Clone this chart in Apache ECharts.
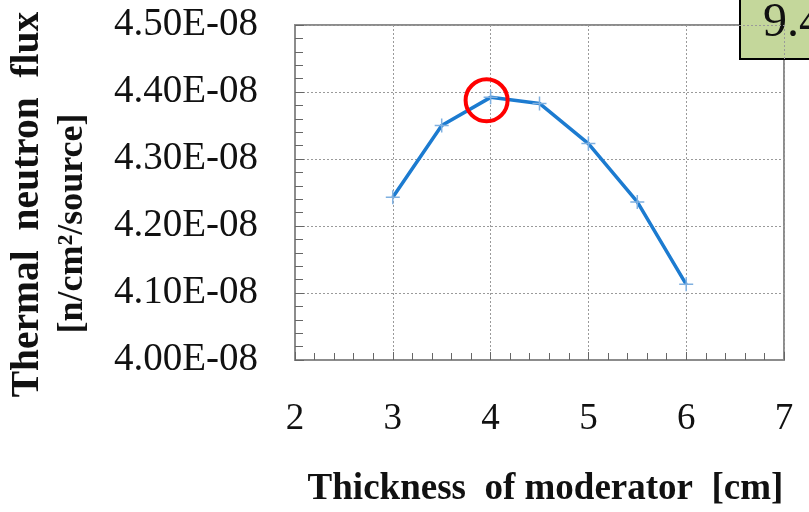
<!DOCTYPE html>
<html>
<head>
<meta charset="utf-8">
<script src="https://cdn.jsdelivr.net/npm/echarts@6/dist/echarts.min.js"></script>
<style>
html,body{margin:0;padding:0;background:#fff;}
#c{width:809px;height:512px;}
</style>
</head>
<body>
<div id="c"></div>
<script>
// Data
var thickness = [3, 3.5, 4, 4.5, 5, 5.5, 6];
var flux = [4.243e-8, 4.350e-8, 4.392e-8, 4.383e-8, 4.323e-8, 4.236e-8, 4.113e-8];
var xTickValues = [2, 3, 4, 5, 6, 7];
var yTickLabels = ['4.00E-08', '4.10E-08', '4.20E-08', '4.30E-08', '4.40E-08', '4.50E-08'];
var highlightX = 4;
var boxText = '9.4';

var chart = echarts.init(document.getElementById('c'), null, {renderer: 'canvas'});
var serif = '"Liberation Serif", "DejaVu Serif", serif';
var pts = thickness.map(function (x, i) { return [x, flux[i]]; });
var hiIdx = thickness.indexOf(highlightX);

var option = {
  animation: false,
  backgroundColor: '#ffffff',
  grid: {left: 295, right: 25, top: 25, bottom: 152, show: true, borderColor: '#8c8c8c', borderWidth: 2,
         containLabel: false, outerBoundsMode: 'none'},
  xAxis: {
    type: 'value', min: 2, max: 7, interval: 1,
    name: 'Thickness  of moderator  [cm]',
    nameLocation: 'middle', nameGap: 111,
    nameTextStyle: {fontFamily: serif, fontWeight: 'bold', fontSize: 37, color: '#111', padding: [0, 0, 0, 12]},
    axisLine: {show: true, lineStyle: {color: '#8c8c8c', width: 2}},
    axisTick: {show: true, inside: true, length: 8, lineStyle: {color: '#666', width: 1}},
    minorTick: {show: true, splitNumber: 5, length: 7, lineStyle: {color: '#666', width: 1}},
    axisLabel: {fontFamily: serif, fontSize: 37, color: '#111', margin: 41,
      formatter: function (v) { return xTickValues.indexOf(v) >= 0 ? String(v) : ''; }},
    splitLine: {show: true, lineStyle: {color: '#9a9a9a', type: [2, 2], width: 1}}
  },
  yAxis: {
    type: 'value', min: 4.0e-8, max: 4.5e-8, interval: 0.1e-8,
    name: '{a|Thermal  neutron  flux}\n{b|[n/cm²/source]}',
    nameLocation: 'middle', nameRotate: 90, nameGap: 200,
    nameTextStyle: {
      rich: {
        a: {fontFamily: serif, fontWeight: 'bold', fontSize: 39.5, color: '#111', lineHeight: 45, padding: [0, 24, 0, 0]},
        b: {fontFamily: serif, fontWeight: 'bold', fontSize: 36, color: '#111', lineHeight: 45, padding: [0, 62, 0, 0]}
      }
    },
    axisLine: {show: true, lineStyle: {color: '#8c8c8c', width: 2}},
    axisTick: {show: true, inside: true, length: 9, lineStyle: {color: '#666', width: 1}},
    minorTick: {show: true, splitNumber: 5, length: 8, lineStyle: {color: '#666', width: 1}},
    axisLabel: {fontFamily: serif, fontSize: 39, color: '#111', margin: 37,
      formatter: function (v) {
        var i = Math.round((v - 4.0e-8) / 0.1e-8);
        return yTickLabels[i] || '';
      }},
    splitLine: {show: true, lineStyle: {color: '#9a9a9a', type: [2, 2], width: 1}}
  },
  series: [{
    type: 'line',
    data: pts,
    lineStyle: {color: '#1c7bd0', width: 3.5},
    symbol: 'path://M0,5 L10,5 M5,0 L5,10',
    symbolSize: 14,
    showSymbol: true,
    itemStyle: {color: 'transparent', borderColor: '#7fb0e0', borderWidth: 1.5},
    markPoint: {
      symbol: 'circle', symbolSize: 42, symbolOffset: [-4, 3],
      label: {show: false},
      itemStyle: {color: 'transparent', borderColor: '#ff0000', borderWidth: 4},
      data: [{coord: pts[hiIdx]}]
    }
  }],
  graphic: [{
    type: 'group', left: 739, top: -4,
    children: [
      {type: 'rect', shape: {x: 0, y: 0, width: 90, height: 62}, style: {fill: '#c4d79b', stroke: '#000', lineWidth: 2}},
      {type: 'text', x: 23, y: 2, style: {text: boxText, fontFamily: serif, fontSize: 48, fill: '#111'}}
    ]
  }]
};
chart.setOption(option);
</script>
</body>
</html>
